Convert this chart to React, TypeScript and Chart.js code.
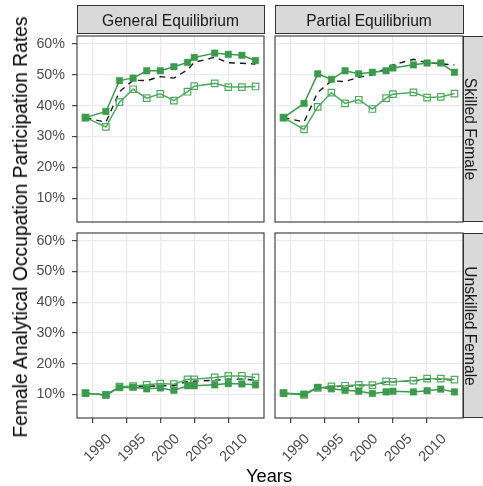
import React, { useEffect, useRef } from 'react';
import { Chart, registerables } from 'chart.js';
Chart.register(...registerables);

// ---- data ----
const years = [1989, 1992, 1994, 1996, 1998, 2000, 2002, 2004, 2005, 2008, 2010, 2012, 2014];
const xTickValues = [1990, 1995, 2000, 2005, 2010];
const yTickValues = [10, 20, 30, 40, 50, 60];
const colLabels = ['General Equilibrium', 'Partial Equilibrium'];
const rowLabels = ['Skilled Female', 'Unskilled Female'];
const xTitle = 'Years';
const yTitle = 'Female Analytical Occupation Participation Rates';

// General Equilibrium – Skilled Female
const geSkilledFilled = [36.1, 38.1, 48.1, 48.9, 51.3, 51.3, 52.6, 54.0, 55.6, 57.0, 56.6, 56.3, 54.6];
const geSkilledOpen = [36.1, 33.1, 41.1, 45.3, 42.4, 43.8, 41.6, 44.5, 46.3, 47.2, 46.0, 46.0, 46.2];
const geSkilledDashed = [36.1, 34.6, 44.5, 48.2, 48.1, 49.4, 48.9, 51.6, 54.0, 55.7, 53.9, 53.7, 53.5];
// Partial Equilibrium – Skilled Female
const peSkilledFilled = [36.1, 40.7, 50.3, 48.5, 51.3, 50.3, 50.8, 51.3, 52.2, 53.2, 53.8, 53.8, 50.8];
const peSkilledOpen = [36.1, 32.3, 39.6, 44.2, 40.7, 41.9, 38.9, 42.4, 43.7, 44.3, 42.6, 42.8, 43.9];
const peSkilledDashed = [36.1, 34.7, 44.3, 48.0, 47.8, 49.2, 49.9, 52.1, 53.2, 55.0, 53.9, 53.5, 53.2];
// General Equilibrium – Unskilled Female
const geUnskilledFilled = [10.4, 9.8, 12.2, 12.3, 11.8, 12.1, 11.3, 12.8, 12.8, 13.1, 13.5, 13.4, 13.1];
const geUnskilledOpen = [10.4, 9.8, 12.5, 12.7, 13.1, 13.5, 13.3, 14.9, 14.9, 15.5, 16.0, 16.0, 15.5];
const geUnskilledDashed = [10.4, 9.8, 12.3, 12.5, 12.6, 12.8, 12.8, 14.2, 14.3, 14.6, 14.9, 15.0, 14.6];
// Partial Equilibrium – Unskilled Female
const peUnskilledFilled = [10.4, 10.1, 12.3, 11.8, 11.3, 11.0, 10.3, 10.8, 11.0, 10.8, 11.2, 11.7, 10.8];
const peUnskilledOpen = [10.4, 9.8, 12.1, 12.6, 12.8, 13.1, 13.0, 14.2, 14.1, 14.5, 15.1, 15.1, 14.8];
const peUnskilledDashed = [10.4, 9.9, 12.2, 12.5, 12.7, 12.9, 12.9, 14.0, 14.1, 14.4, 14.9, 15.0, 14.6];

const X_MIN = 1987.75;
const X_MAX = 2015.25;
const Y_MIN = 2.3;
const Y_MAX = 62.55;

const GREEN_FILLED = '#3b9a4c';
const GREEN_OPEN = '#4fab5e';
const FONT = "'Liberation Sans', Arial, Helvetica, sans-serif";

const borderPlugin = {
  id: 'panelBorder',
  afterDraw(chart: any) {
    const { ctx, chartArea: a } = chart;
    ctx.save();
    ctx.strokeStyle = '#333333';
    ctx.lineWidth = 1.1;
    ctx.strokeRect(a.left, a.top, a.right - a.left, a.bottom - a.top);
    ctx.restore();
  },
};

type PanelProps = {
  left: number;
  top: number;
  width: number;
  height: number;
  showY: boolean;
  showX: boolean;
  filled: number[];
  open: number[];
  dashed: number[];
};

function Panel(p: PanelProps) {
  const ref = useRef<HTMLCanvasElement>(null);
  const padL = p.showY ? 60 : 24;
  const padT = 18;
  const padR = 14;
  const xAxisH = p.showX ? 50 : 0;
  const padB = p.showX ? 0 : 18;
  const cw = padL + p.width + padR;
  const ch = padT + p.height + xAxisH + padB;

  useEffect(() => {
    const toXY = (arr: number[]) => years.map((x, i) => ({ x, y: arr[i] }));
    const chart = new Chart(ref.current as HTMLCanvasElement, {
      type: 'line',
      data: {
        datasets: [
          {
            data: toXY(p.filled),
            borderColor: GREEN_FILLED,
            backgroundColor: GREEN_FILLED,
            borderWidth: 1.5,
            pointStyle: 'rect',
            pointRadius: 4.6,
            pointBorderWidth: 0.5,
            pointBackgroundColor: GREEN_FILLED,
            pointBorderColor: GREEN_FILLED,
            tension: 0,
          },
          {
            data: toXY(p.open),
            borderColor: GREEN_OPEN,
            backgroundColor: 'rgba(255,255,255,0)',
            borderWidth: 1.5,
            pointStyle: 'rect',
            pointRadius: 4.6,
            pointBorderWidth: 1.2,
            pointBackgroundColor: 'rgba(255,255,255,0)',
            pointBorderColor: GREEN_OPEN,
            tension: 0,
          },
          {
            data: toXY(p.dashed),
            borderColor: '#1a1a1a',
            borderWidth: 1.4,
            borderDash: [6, 5],
            pointRadius: 0,
            tension: 0,
          },
        ],
      },
      options: {
        animation: false,
        responsive: false,
        events: [],
        layout: { padding: { left: 0, top: padT, right: padR, bottom: padB } },
        plugins: { legend: { display: false }, tooltip: { enabled: false } },
        scales: {
          x: {
            type: 'linear',
            min: X_MIN,
            max: X_MAX,
            border: { display: false },
            afterBuildTicks: (s: any) => {
              s.ticks = xTickValues.map((v) => ({ value: v }));
            },
            afterFit: (s: any) => {
              s.height = xAxisH;
            },
            grid: {
              color: '#ebebeb',
              lineWidth: 1.3,
              drawTicks: p.showX,
              tickLength: 5,
              tickColor: '#333333',
              tickWidth: 1.1,
            },
            ticks: {
              display: p.showX,
              autoSkip: false,
              maxRotation: 45,
              minRotation: 45,
              padding: 7.5,
              labelOffset: 17,
              color: '#4d4d4d',
              font: { family: FONT, size: 14.5 },
              callback: (v: any) => String(v),
            },
          },
          y: {
            type: 'linear',
            min: Y_MIN,
            max: Y_MAX,
            border: { display: false },
            afterBuildTicks: (s: any) => {
              s.ticks = yTickValues.map((v) => ({ value: v }));
            },
            afterFit: (s: any) => {
              s.width = padL;
            },
            grid: {
              color: '#ebebeb',
              lineWidth: 1.3,
              drawTicks: p.showY,
              tickLength: 5,
              tickColor: '#333333',
              tickWidth: 1.1,
            },
            ticks: {
              display: p.showY,
              padding: 7,
              color: '#4d4d4d',
              font: { family: FONT, size: 14.3 },
              callback: (v: any) => v + '%',
            },
          },
        },
      } as any,
      plugins: [borderPlugin],
    });
    return () => chart.destroy();
  }, []);

  return (
    <canvas
      ref={ref}
      width={cw}
      height={ch}
      style={{ position: 'absolute', left: p.left - padL, top: p.top - padT, width: cw, height: ch }}
    />
  );
}

const COLS = [
  { left: 77, width: 187 },
  { left: 275, width: 188 },
];
const ROWS = [
  { top: 36, height: 186 },
  { top: 233, height: 185 },
];

export default function App() {
  const panelData = [
    [
      [geSkilledFilled, geSkilledOpen, geSkilledDashed],
      [peSkilledFilled, peSkilledOpen, peSkilledDashed],
    ],
    [
      [geUnskilledFilled, geUnskilledOpen, geUnskilledDashed],
      [peUnskilledFilled, peUnskilledOpen, peUnskilledDashed],
    ],
  ];
  return (
    <div
      style={{
        position: 'absolute',
        left: 0,
        top: 0,
        width: 483,
        height: 486,
        overflow: 'hidden',
        background: '#ffffff',
        fontFamily: FONT,
      }}
    >
      {ROWS.map((r, ri) =>
        COLS.map((c, ci) => (
          <Panel
            key={`${ri}-${ci}`}
            left={c.left}
            top={r.top}
            width={c.width}
            height={r.height}
            showY={ci === 0}
            showX={ri === 1}
            filled={panelData[ri][ci][0]}
            open={panelData[ri][ci][1]}
            dashed={panelData[ri][ci][2]}
          />
        ))
      )}
      {/* top strips */}
      {COLS.map((c, ci) => (
        <div
          key={`ts-${ci}`}
          style={{
            position: 'absolute',
            left: c.left - 0.5,
            top: 5,
            width: c.width + 1.5,
            height: 28.5,
            background: '#d9d9d9',
            border: '1.1px solid #333333',
            boxSizing: 'border-box',
          }}
        />
      ))}
      {COLS.map((c, ci) => (
        <span
          key={`tt-${ci}`}
          style={{
            position: 'absolute',
            left: c.left + c.width / 2,
            top: 21.2,
            transform: 'translate(-50%, -50%)',
            fontSize: 15.6,
            color: '#1a1a1a',
            whiteSpace: 'nowrap',
          }}
        >
          {colLabels[ci]}
        </span>
      ))}
      {/* right strips */}
      {ROWS.map((r, ri) => (
        <div
          key={`rs-${ri}`}
          style={{
            position: 'absolute',
            left: 463,
            top: r.top,
            width: 30,
            height: r.height,
            background: '#d9d9d9',
            border: '1.1px solid #333333',
            boxSizing: 'border-box',
          }}
        />
      ))}
      {ROWS.map((r, ri) => (
        <span
          key={`rt-${ri}`}
          style={{
            position: 'absolute',
            left: 470.3,
            top: r.top + r.height / 2,
            transform: 'translate(-50%, -50%) rotate(90deg)',
            fontSize: 15.6,
            color: '#1a1a1a',
            whiteSpace: 'nowrap',
          }}
        >
          {rowLabels[ri]}
        </span>
      ))}
      {/* axis titles */}
      <span
        style={{
          position: 'absolute',
          left: 20.6,
          top: 227,
          transform: 'translate(-50%, -50%) rotate(-90deg)',
          fontSize: 19.3,
          color: '#000000',
          whiteSpace: 'nowrap',
        }}
      >
        {yTitle}
      </span>
      <span
        style={{
          position: 'absolute',
          left: 269,
          top: 475.5,
          transform: 'translate(-50%, -50%)',
          fontSize: 18.3,
          color: '#000000',
          whiteSpace: 'nowrap',
        }}
      >
        {xTitle}
      </span>
    </div>
  );
}
